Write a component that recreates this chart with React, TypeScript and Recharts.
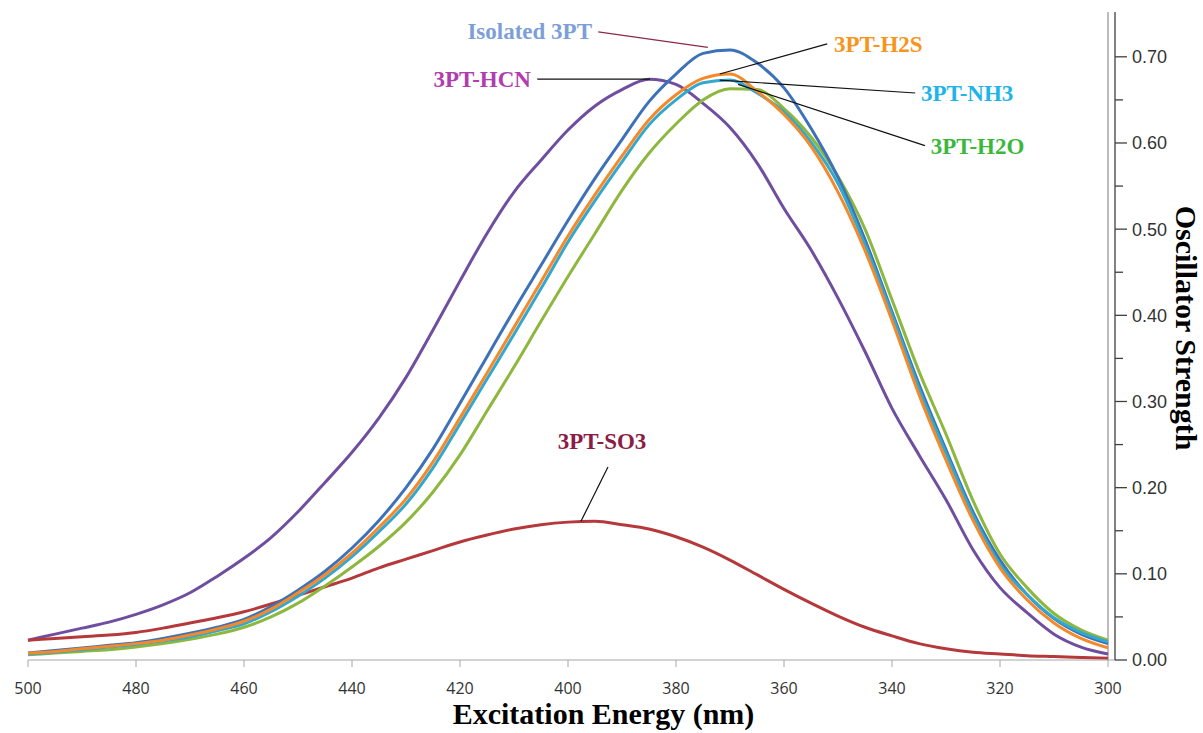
import React from "react";
import { LineChart, Line, XAxis, YAxis, ReferenceLine, ReferenceDot, Label } from "recharts";

// wavelength grid (nm), read every 5 nm
const WAVELENGTH = [
  500, 495, 490, 485, 480, 475, 470, 465, 460, 455,
  450, 445, 440, 435, 430, 425, 420, 415, 410, 405,
  400, 395, 390, 385, 380, 375, 370, 365, 360, 355,
  350, 345, 340, 335, 330, 325, 320, 315, 310, 305, 300,
];

const ISOLATED = [
  0.008, 0.011, 0.014, 0.017, 0.020, 0.025, 0.031, 0.038, 0.047, 0.062,
  0.081, 0.103, 0.130, 0.162, 0.200, 0.245, 0.298, 0.352, 0.406, 0.458,
  0.510, 0.559, 0.604, 0.648, 0.680, 0.704, 0.708, 0.693, 0.664, 0.617,
  0.560, 0.488, 0.404, 0.320, 0.244, 0.172, 0.116, 0.076, 0.048, 0.030, 0.019,
];
const H2S = [
  0.008, 0.010, 0.013, 0.016, 0.019, 0.023, 0.029, 0.036, 0.045, 0.059,
  0.078, 0.099, 0.124, 0.154, 0.187, 0.230, 0.281, 0.333, 0.386, 0.439,
  0.492, 0.540, 0.585, 0.627, 0.656, 0.675, 0.680, 0.660, 0.633, 0.596,
  0.543, 0.475, 0.394, 0.308, 0.232, 0.162, 0.107, 0.070, 0.043, 0.025, 0.014,
];
const NH3 = [
  0.007, 0.009, 0.012, 0.015, 0.018, 0.022, 0.027, 0.034, 0.042, 0.056,
  0.074, 0.095, 0.120, 0.149, 0.181, 0.223, 0.274, 0.326, 0.378, 0.431,
  0.485, 0.533, 0.578, 0.621, 0.650, 0.670, 0.673, 0.658, 0.636, 0.601,
  0.553, 0.482, 0.401, 0.315, 0.240, 0.168, 0.111, 0.076, 0.049, 0.032, 0.021,
];
const H2O = [
  0.006, 0.008, 0.010, 0.012, 0.015, 0.019, 0.024, 0.030, 0.038, 0.050,
  0.066, 0.086, 0.108, 0.132, 0.160, 0.195, 0.238, 0.289, 0.340, 0.393,
  0.445, 0.495, 0.545, 0.588, 0.622, 0.650, 0.663, 0.662, 0.640, 0.607,
  0.561, 0.500, 0.418, 0.335, 0.262, 0.185, 0.123, 0.084, 0.054, 0.035, 0.023,
];
const HCN = [
  0.023, 0.030, 0.037, 0.044, 0.053, 0.064, 0.078, 0.097, 0.118, 0.142,
  0.172, 0.206, 0.241, 0.281, 0.328, 0.383, 0.440, 0.495, 0.543, 0.580,
  0.615, 0.643, 0.662, 0.674, 0.668, 0.646, 0.618, 0.577, 0.524, 0.476,
  0.420, 0.358, 0.292, 0.238, 0.186, 0.128, 0.084, 0.055, 0.030, 0.015, 0.007,
];
const SO3 = [
  0.023, 0.025, 0.027, 0.029, 0.032, 0.037, 0.043, 0.049, 0.056, 0.065,
  0.075, 0.085, 0.095, 0.107, 0.117, 0.127, 0.137, 0.145, 0.152, 0.157,
  0.160, 0.161, 0.157, 0.152, 0.143, 0.131, 0.116, 0.099, 0.082, 0.066,
  0.051, 0.038, 0.028, 0.019, 0.013, 0.009, 0.007, 0.005, 0.004, 0.003, 0.002,
];

const X_TICKS = [500, 480, 460, 440, 420, 400, 380, 360, 340, 320, 300];
const Y_TICKS = [0, 0.05, 0.1, 0.15, 0.2, 0.25, 0.3, 0.35, 0.4, 0.45, 0.5, 0.55, 0.6, 0.65, 0.7];

const data = WAVELENGTH.map((nm, i) => ({
  nm, iso: ISOLATED[i], h2s: H2S[i], nh3: NH3[i], h2o: H2O[i], hcn: HCN[i], so3: SO3[i],
}));

const SERIES = [
  { key: "hcn", color: "#6F4E9F" },
  { key: "so3", color: "#B5393A" },
  { key: "h2o", color: "#8DB73D" },
  { key: "iso", color: "#3D71B8" },
  { key: "nh3", color: "#32A8CF" },
  { key: "h2s", color: "#F5892A" },
];

// callouts: label anchor + leader line ends, in data units
const CALLOUTS = [
  { text: "Isolated 3PT", color: "#7D9FD8", at: [395, 0.73], pos: "left", from: [394.4, 0.729], to: [374.1, 0.711], line: "#8B2A4A" },
  { text: "3PT-H2S", color: "#F7941D", at: [351.3, 0.715], pos: "right", from: [352, 0.715], to: [371.9, 0.68], line: "#111" },
  { text: "3PT-NH3", color: "#1EB4EA", at: [335.2, 0.658], pos: "right", from: [335.7, 0.658], to: [371.9, 0.673], line: "#111" },
  { text: "3PT-H2O", color: "#3BB83B", at: [333.4, 0.597], pos: "right", from: [333.9, 0.597], to: [368.5, 0.668], line: "#111" },
  { text: "3PT-HCN", color: "#B03CB0", at: [406.3, 0.674], pos: "left", from: [405.7, 0.674], to: [384.8, 0.674], line: "#111" },
  { text: "3PT-SO3", color: "#8B1C45", at: [393.7, 0.254], pos: "center", from: [392.6, 0.224], to: [397.6, 0.161], line: "#111" },
];

const SERIF = "'Liberation Serif', 'Times New Roman', serif";

function YTick({ x, y, payload }: any) {
  const major = Math.round(payload.value * 100) % 10 === 0;
  return (
    <g>
      <line x1={x} x2={x + (major ? 12 : 8)} y1={y} y2={y} stroke="#404040" strokeWidth={1.3} />
      {major && (
        <text x={x + 17} y={y} dy="0.36em" fill="#333" fontSize={18} fontFamily="'Liberation Sans', Arial, sans-serif">
          {payload.value.toFixed(2)}
        </text>
      )}
    </g>
  );
}

function XTitle({ viewBox }: any) {
  const cx = viewBox.x + viewBox.width / 2 + 32;
  return (
    <text x={cx} y={viewBox.y + 64} textAnchor="middle" fontSize={30} fontWeight="bold" fontFamily={SERIF} fill="#000">
      Excitation Energy (nm)
    </text>
  );
}

function YTitle({ viewBox }: any) {
  const cx = viewBox.x + 71;
  const cy = viewBox.y + viewBox.height / 2 - 8;
  return (
    <text x={cx} y={cy} transform={`rotate(90, ${cx}, ${cy})`} textAnchor="middle" dominantBaseline="central"
      fontSize={30} fontWeight="bold" fontFamily={SERIF} fill="#000">
      Oscillator Strength
    </text>
  );
}

export default function App() {
  return (
    <div style={{ position: "absolute", left: 0, top: 0, background: "#fff" }}>
      <LineChart width={1203} height={733} data={data} margin={{ top: 12, right: 0, left: 28, bottom: 0 }}>
        <XAxis dataKey="nm" type="number" domain={[300, 500]} reversed ticks={X_TICKS} padding={{ left: 0, right: 7 }}
          height={73} tickSize={7} tickMargin={16} stroke="#A6A6A6"
          tick={{ fill: "#333", fontSize: 16, fontFamily: "'Open Sans', sans-serif" }}>
          <Label content={<XTitle />} />
        </XAxis>
        <YAxis orientation="right" domain={[0, 0.752]} ticks={Y_TICKS} width={88} tickLine={false} tickSize={0} tickMargin={0}
          axisLine={{ stroke: "#404040", strokeWidth: 1.3 }} tick={<YTick />} interval={0}>
          <Label content={<YTitle />} />
        </YAxis>
        <ReferenceLine x={300} stroke="#A6A6A6" strokeWidth={1.5} />
        {SERIES.map((s) => (
          <Line key={s.key} dataKey={s.key} type="monotone" stroke={s.color} strokeWidth={3} dot={false} isAnimationActive={false} />
        ))}
        {CALLOUTS.map((c) => (
          <ReferenceLine key={c.text + "-l"} segment={[{ x: c.from[0], y: c.from[1] }, { x: c.to[0], y: c.to[1] }]}
            stroke={c.line} strokeWidth={1.2} />
        ))}
        {CALLOUTS.map((c) => (
          <ReferenceDot key={c.text} x={c.at[0]} y={c.at[1]} r={1} fill="none" stroke="none"
            label={{ value: c.text, position: c.pos as any, offset: 2, fill: c.color, fontSize: 23, fontWeight: "bold", fontFamily: SERIF }} />
        ))}
      </LineChart>
    </div>
  );
}
